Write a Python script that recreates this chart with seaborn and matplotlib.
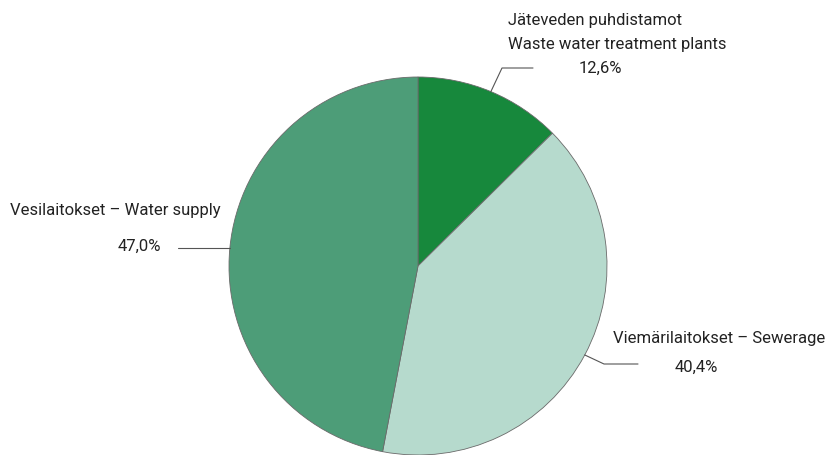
import numpy as np
import matplotlib
matplotlib.use("Agg")
import matplotlib.pyplot as plt
import seaborn as sns

# Data
labels_fi = ["Jäteveden puhdistamot", "Viemärilaitokset", "Vesilaitokset"]
labels_en = ["Waste water treatment plants", "Sewerage", "Water supply"]
shares = [12.6, 40.4, 47.0]
colors = ["#17883c", "#b6dacd", "#4d9d78"]

sns.set_theme(style="white")
plt.rcParams['font.family'] = ['Roboto', 'DejaVu Sans']

fig = plt.figure(figsize=(8.3, 4.55), dpi=100)
ax = fig.add_axes([0, 0, 1, 1])

cx, cy, r = 418, 189, 189
wedges, _ = ax.pie(shares, colors=colors, startangle=90, counterclock=False,
                   center=(cx, cy), radius=r, frame=True,
                   wedgeprops=dict(edgecolor='#6a6a6a', linewidth=0.6))
ax.set_xlim(0, 830)
ax.set_ylim(0, 455)
ax.set_aspect('equal')
ax.axis('off')

def edge_point(w):
    ang = np.deg2rad((w.theta1 + w.theta2) / 2)
    return cx + r * np.cos(ang), cy + r * np.sin(ang)

def pct(v):
    return f"{v:.1f}%".replace('.', ',')

fs = 12
txt = '#222222'
line_kw = dict(color='#555555', linewidth=0.8)

# Jäteveden puhdistamot
px, py = edge_point(wedges[0])
ax.plot([px, 502, 533], [py, 455 - 68, 455 - 68], **line_kw)
ax.text(508, 455 - 20, labels_fi[0], fontsize=fs, color=txt, va='center', ha='left')
ax.text(508, 455 - 44, labels_en[0], fontsize=fs, color=txt, va='center', ha='left')
ax.text(600, 455 - 68, pct(shares[0]), fontsize=fs, color=txt, va='center', ha='center')

# Viemärilaitokset
px, py = edge_point(wedges[1])
ax.plot([px, 604, 638], [py, 455 - 364, 455 - 364], **line_kw)
ax.text(613, 455 - 338, f"{labels_fi[1]} – {labels_en[1]}", fontsize=fs, color=txt,
        va='center', ha='left')
ax.text(696, 455 - 367, pct(shares[1]), fontsize=fs, color=txt, va='center', ha='center')

# Vesilaitokset
px, py = edge_point(wedges[2])
ax.plot([px, 178], [py, py], **line_kw)
ax.text(10, 455 - 210, f"{labels_fi[2]} – {labels_en[2]}", fontsize=fs, color=txt,
        va='center', ha='left')
ax.text(139, 455 - 246, pct(shares[2]), fontsize=fs, color=txt, va='center', ha='center')

fig.savefig('out.png', dpi=100, facecolor='white')
